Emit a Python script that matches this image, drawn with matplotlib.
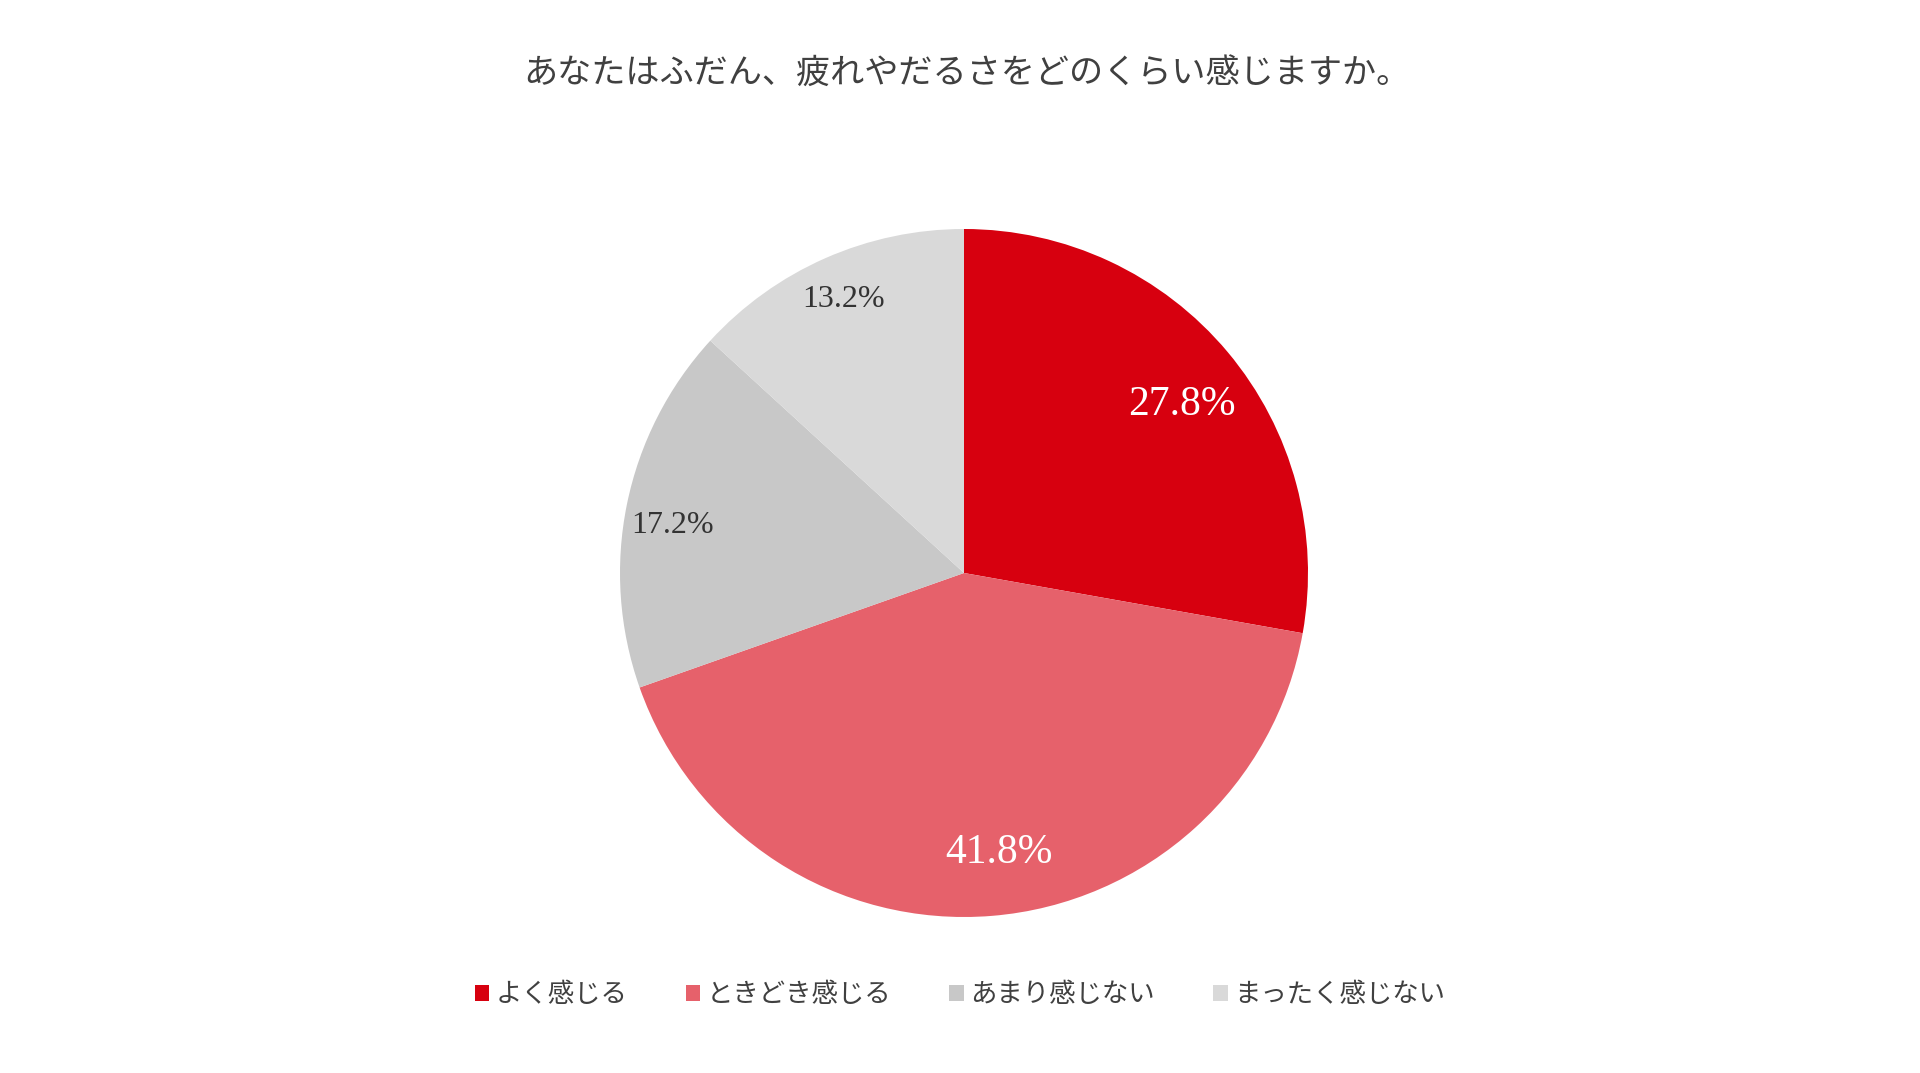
import matplotlib
matplotlib.use("Agg")
import matplotlib.pyplot as plt
import numpy as np

plt.rcParams['font.family'] = ['Noto Sans CJK JP', 'DejaVu Sans']

title = "あなたはふだん、疲れやだるさをどのくらい感じますか。"
categories = ["よく感じる", "ときどき感じる", "あまり感じない", "まったく感じない"]
values = [27.8, 41.8, 17.2, 13.2]
colors = ["#D7000F", "#E6616B", "#C8C8C8", "#D9D9D9"]
label_colors = ["white", "white", "#333333", "#333333"]
label_sizes = [30, 30, 23, 23]
label_radii = [0.80, 0.82, 0.86, 0.87]
label_angle_shift = [-2.4, 2.5, 2.2, 0.0]

W, H = 1920, 1073
fig = plt.figure(figsize=(W / 100, H / 100), dpi=100)
cx, cy, R = 964, 573, 344
ax = fig.add_axes([(cx - R) / W, (H - cy - R) / H, 2 * R / W, 2 * R / H])

wedges, _ = ax.pie(values, colors=colors, startangle=90, counterclock=False,
                   radius=1, wedgeprops=dict(linewidth=0))
ax.set_xlim(-1, 1)
ax.set_ylim(-1, 1)
ax.set_aspect('equal')
ax.axis('off')

for w, v, c, s, r, d in zip(wedges, values, label_colors, label_sizes, label_radii,
                            label_angle_shift):
    ang = np.deg2rad((w.theta1 + w.theta2) / 2 + d)
    ax.text(r * np.cos(ang), r * np.sin(ang), f"{v:.1f}%", ha='center', va='center',
            color=c, fontsize=s, family=['Liberation Serif', 'DejaVu Serif'])

fig.text(967 / W, 1 - 74 / H, title, ha='center', va='center', fontsize=24.6,
         color='#404040')

leg = fig.legend(wedges, categories, loc='center', bbox_to_anchor=(0.5, 1 - 995 / H),
                 ncol=4, frameon=False, fontsize=19, handlelength=0.55, handleheight=0.55,
                 handletextpad=0.25, columnspacing=2.2, labelcolor='#404040')

fig.savefig("out.png", dpi=100, facecolor='white')
